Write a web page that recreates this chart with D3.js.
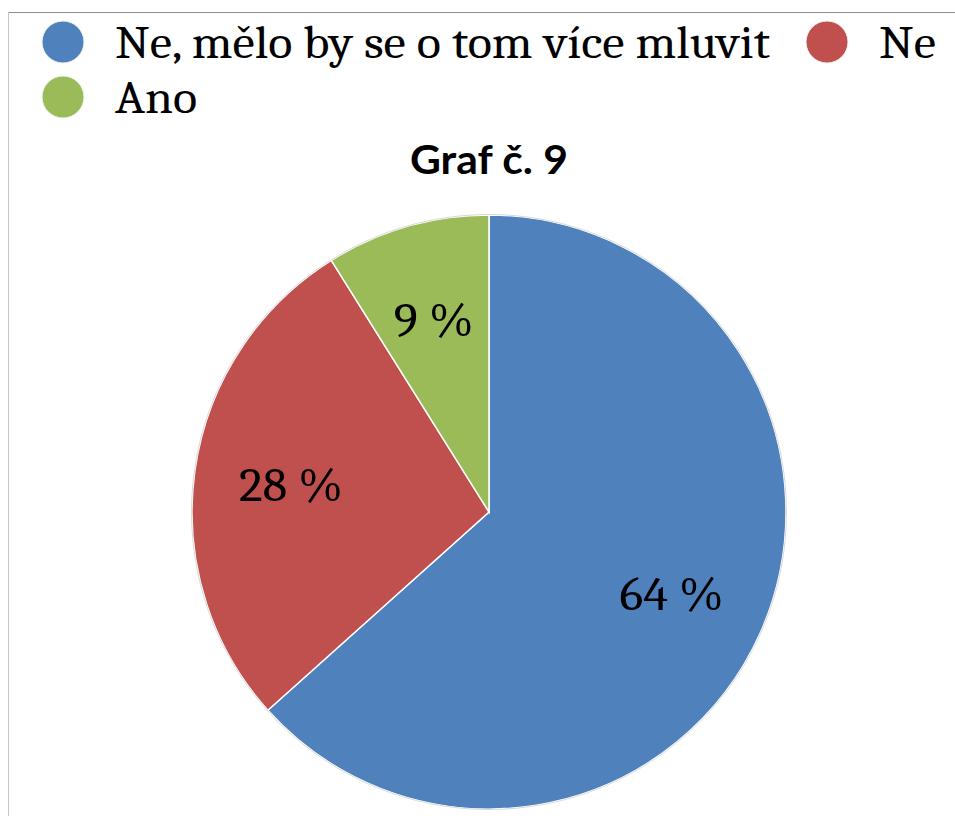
<!DOCTYPE html>
<html>
<head>
<meta charset="utf-8">
<script src="https://cdn.jsdelivr.net/npm/d3@7"></script>
<style>
  body { margin: 0; background: #fff; }
</style>
</head>
<body>
<svg id="chart" width="955" height="816"></svg>
<script>
// data
const categories = ["Ne, mělo by se o tom více mluvit", "Ne", "Ano"];
const values = [64, 28, 9];
const colors = ["#4F81BD", "#C0504D", "#9BBB59"];
const title = "Graf č. 9";

const svg = d3.select("#chart");
const width = 955, height = 816;
const cx = 489, cy = 512, r = 297;
const serif = "Cambria, 'DejaVu Serif', 'Liberation Serif', serif";

// stretch a serif text sideways so it looks like Cambria (wider than the fallback)
function widen(sel, k) {
    sel.each(function () {
        const w = this.getComputedTextLength();
        d3.select(this).attr("textLength", w * k).attr("lengthAdjust", "spacingAndGlyphs");
    });
}

// frame
svg.append("line").attr("x1", 8).attr("x2", width).attr("y1", 12.5).attr("y2", 12.5)
    .attr("stroke", "#8c8c8c").attr("stroke-width", 1);
svg.append("line").attr("x1", 8.5).attr("x2", 8.5).attr("y1", 12).attr("y2", height)
    .attr("stroke", "#c8c8c8").attr("stroke-width", 1);

// legend
const legendPos = [[63, 42], [827, 42], [63, 97]];
const legend = svg.append("g").attr("class", "legend");
categories.forEach((c, i) => {
    const [x, y] = legendPos[i];
    legend.append("circle").attr("cx", x).attr("cy", y).attr("r", 21)
        .attr("fill", colors[i]).attr("stroke", "#f2f2f2").attr("stroke-width", 1);
    legend.append("text").attr("x", x + 52).attr("y", y + 16)
        .attr("font-family", serif).attr("font-size", 45).attr("fill", "#000")
        .text(c);
});
const legendTexts = legend.selectAll("text");
const k = 655 / legendTexts.node().getComputedTextLength();
widen(legendTexts, k);

// title
svg.append("text").attr("x", cx).attr("y", 174).attr("text-anchor", "middle")
    .attr("font-family", "Lato, 'Open Sans', sans-serif").attr("font-weight", "bold")
    .attr("font-size", 41).attr("fill", "#000").text(title)
    .call(widen, 1.04);

// pie
const pie = d3.pie().sort(null).value(d => d);
const arc = d3.arc().innerRadius(0).outerRadius(r);
const labelArc = d3.arc().innerRadius(200).outerRadius(200);
const g = svg.append("g").attr("transform", `translate(${cx},${cy})`);
const arcs = pie(values);

g.selectAll("path.slice").data(arcs).join("path")
    .attr("class", "slice")
    .attr("d", arc)
    .attr("fill", (d, i) => colors[i])
    .attr("stroke", "#fff").attr("stroke-width", 1.5);

g.append("circle").attr("r", r + 0.5).attr("fill", "none")
    .attr("stroke", "#d9d9d9").attr("stroke-width", 1);

g.selectAll("text.label").data(arcs).join("text")
    .attr("class", "label")
    .attr("transform", d => `translate(${labelArc.centroid(d)})`)
    .attr("text-anchor", "middle").attr("dy", "0.35em")
    .attr("font-family", serif).attr("font-size", 47).attr("fill", "#000")
    .text(d => d.data + " %")
    .call(widen, 1.07);
</script>
</body>
</html>
